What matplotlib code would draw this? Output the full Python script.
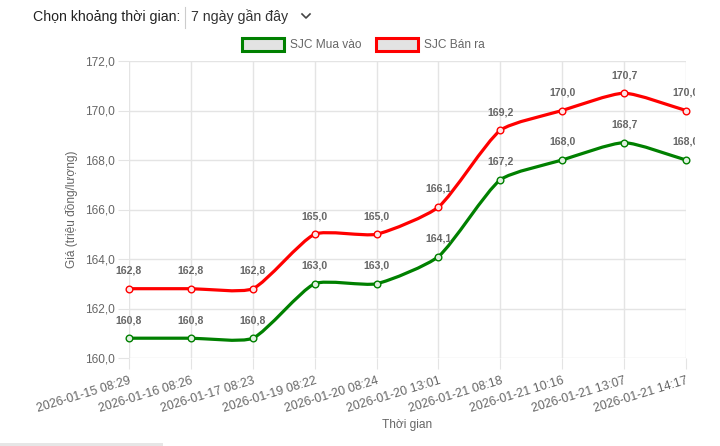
import numpy as np
import matplotlib
matplotlib.use("Agg")
import matplotlib.pyplot as plt
from matplotlib.path import Path
from matplotlib.patches import PathPatch, Rectangle
from matplotlib.lines import Line2D

# data
labels = ["2026-01-15 08:29", "2026-01-16 08:26", "2026-01-17 08:23",
          "2026-01-19 08:22", "2026-01-20 08:24", "2026-01-20 13:01",
          "2026-01-21 08:18", "2026-01-21 10:16", "2026-01-21 13:07",
          "2026-01-21 14:17"]
buy = [160.8, 160.8, 160.8, 163.0, 163.0, 164.1, 167.2, 168.0, 168.7, 168.0]
sell = [162.8, 162.8, 162.8, 165.0, 165.0, 166.1, 169.2, 170.0, 170.7, 170.0]
yticks = [160, 162, 164, 166, 168, 170, 172]

W, H = 720, 446
plt.rcParams["font.family"] = ["Liberation Sans", "DejaVu Sans"]

fig = plt.figure(figsize=(W / 100, H / 100), dpi=100)


def fx(x):
    return x / W


def fy(y):
    return 1 - y / H


# plot area in pixels
L, R, T, B = 129, 686, 61, 358
ax = fig.add_axes([fx(L), fy(B), fx(R - L), (B - T) / H])
x = np.arange(len(labels))
ax.set_xlim(0, len(labels) - 1)
ax.set_ylim(160, 172)
ax.set_yticks(yticks)
ax.set_yticklabels([f"{v:.1f}".replace(".", ",") for v in yticks])
ax.set_xticks(x)
ax.set_xticklabels(labels, rotation=17, ha="right", rotation_mode="anchor")
grid_c = "#e4e4e4"
ax.grid(True, color=grid_c, lw=1)
for s in ax.spines.values():
    s.set_visible(False)
ax.tick_params(axis="both", length=8, color=grid_c, labelcolor="#666666",
               labelsize=8.6, pad=2)
ax.tick_params(axis="x", pad=4, labelsize=8.9)
ax.set_ylabel("Giá (triệu đồng/lượng)", color="#666666", fontsize=8.6, labelpad=5)
ax.set_xlabel("Thời gian", color="#666666", fontsize=8.6, labelpad=3)


def spline_path(ys, tension=0.2):
    pts = ax.transData.transform(np.column_stack([x, ys]))
    n = len(pts)
    cp_prev = pts.copy()
    cp_next = pts.copy()
    for i in range(n):
        p = pts[i - 1] if i > 0 else pts[i]
        c = pts[i]
        nx = pts[i + 1] if i < n - 1 else pts[i]
        d01 = np.hypot(*(c - p))
        d12 = np.hypot(*(nx - c))
        tot = d01 + d12
        s01 = d01 / tot if tot else 0
        s12 = d12 / tot if tot else 0
        cp_prev[i] = c - tension * s01 * (nx - p)
        cp_next[i] = c + tension * s12 * (nx - p)
    verts = [pts[0]]
    codes = [Path.MOVETO]
    for i in range(n - 1):
        verts += [cp_next[i], cp_prev[i + 1], pts[i + 1]]
        codes += [Path.CURVE4] * 3
    inv = ax.transData.inverted()
    return Path(inv.transform(np.array(verts)), codes)


clip = Rectangle((0, 0), fx(695), 1, transform=fig.transFigure)

for ys, col, face in [(sell, "#ff0000", "#fde6e6"), (buy, "#008000", "#e0f0e0")]:
    ax.add_patch(PathPatch(spline_path(ys), fill=False, edgecolor=col, lw=2.3,
                           capstyle="round", joinstyle="round", zorder=3))
    ax.plot(x, ys, "o", ms=4.8, mfc=face, mec=col, mew=1, zorder=4, clip_on=False)
    for xi, yi in zip(x, ys):
        t = ax.annotate(f"{yi:.1f}".replace(".", ","), (xi, yi), xytext=(0, 13),
                        textcoords="offset points", ha="center", va="center",
                        fontsize=7.6, fontweight="bold", color="#666666",
                        annotation_clip=False)
        t.set_clip_path(clip)

# legend
for bx, col, txt in [(242, "#008000", "SJC Mua vào"), (376, "#ff0000", "SJC Bán ra")]:
    fig.patches.append(Rectangle((fx(bx), fy(51)), fx(42), 13 / H,
                                 transform=fig.transFigure, facecolor="#e3e3e3",
                                 edgecolor=col, lw=2.2))
    fig.text(fx(bx + 48), fy(44.5), txt, fontsize=8.6, color="#666666", va="center")

# header
fig.text(fx(33), fy(17), "Chọn khoảng thời gian:", fontsize=10.2, color="#222222",
         va="center")
fig.lines.append(Line2D([fx(185), fx(185)], [fy(7), fy(28)], color="#cccccc", lw=0.8,
                        transform=fig.transFigure))
fig.text(fx(191), fy(17), "7 ngày gần đây", fontsize=10.2, color="#333333", va="center")
fig.lines.append(Line2D([fx(302), fx(306), fx(310)], [fy(14), fy(18), fy(14)],
                        color="#444444", lw=1.2, transform=fig.transFigure))

# scrollbar remnant at bottom
fig.patches.append(Rectangle((0, 0), fx(163), 3 / H, transform=fig.transFigure,
                             facecolor="#e6e6e6", edgecolor="none"))

fig.savefig("out.png", dpi=100)
